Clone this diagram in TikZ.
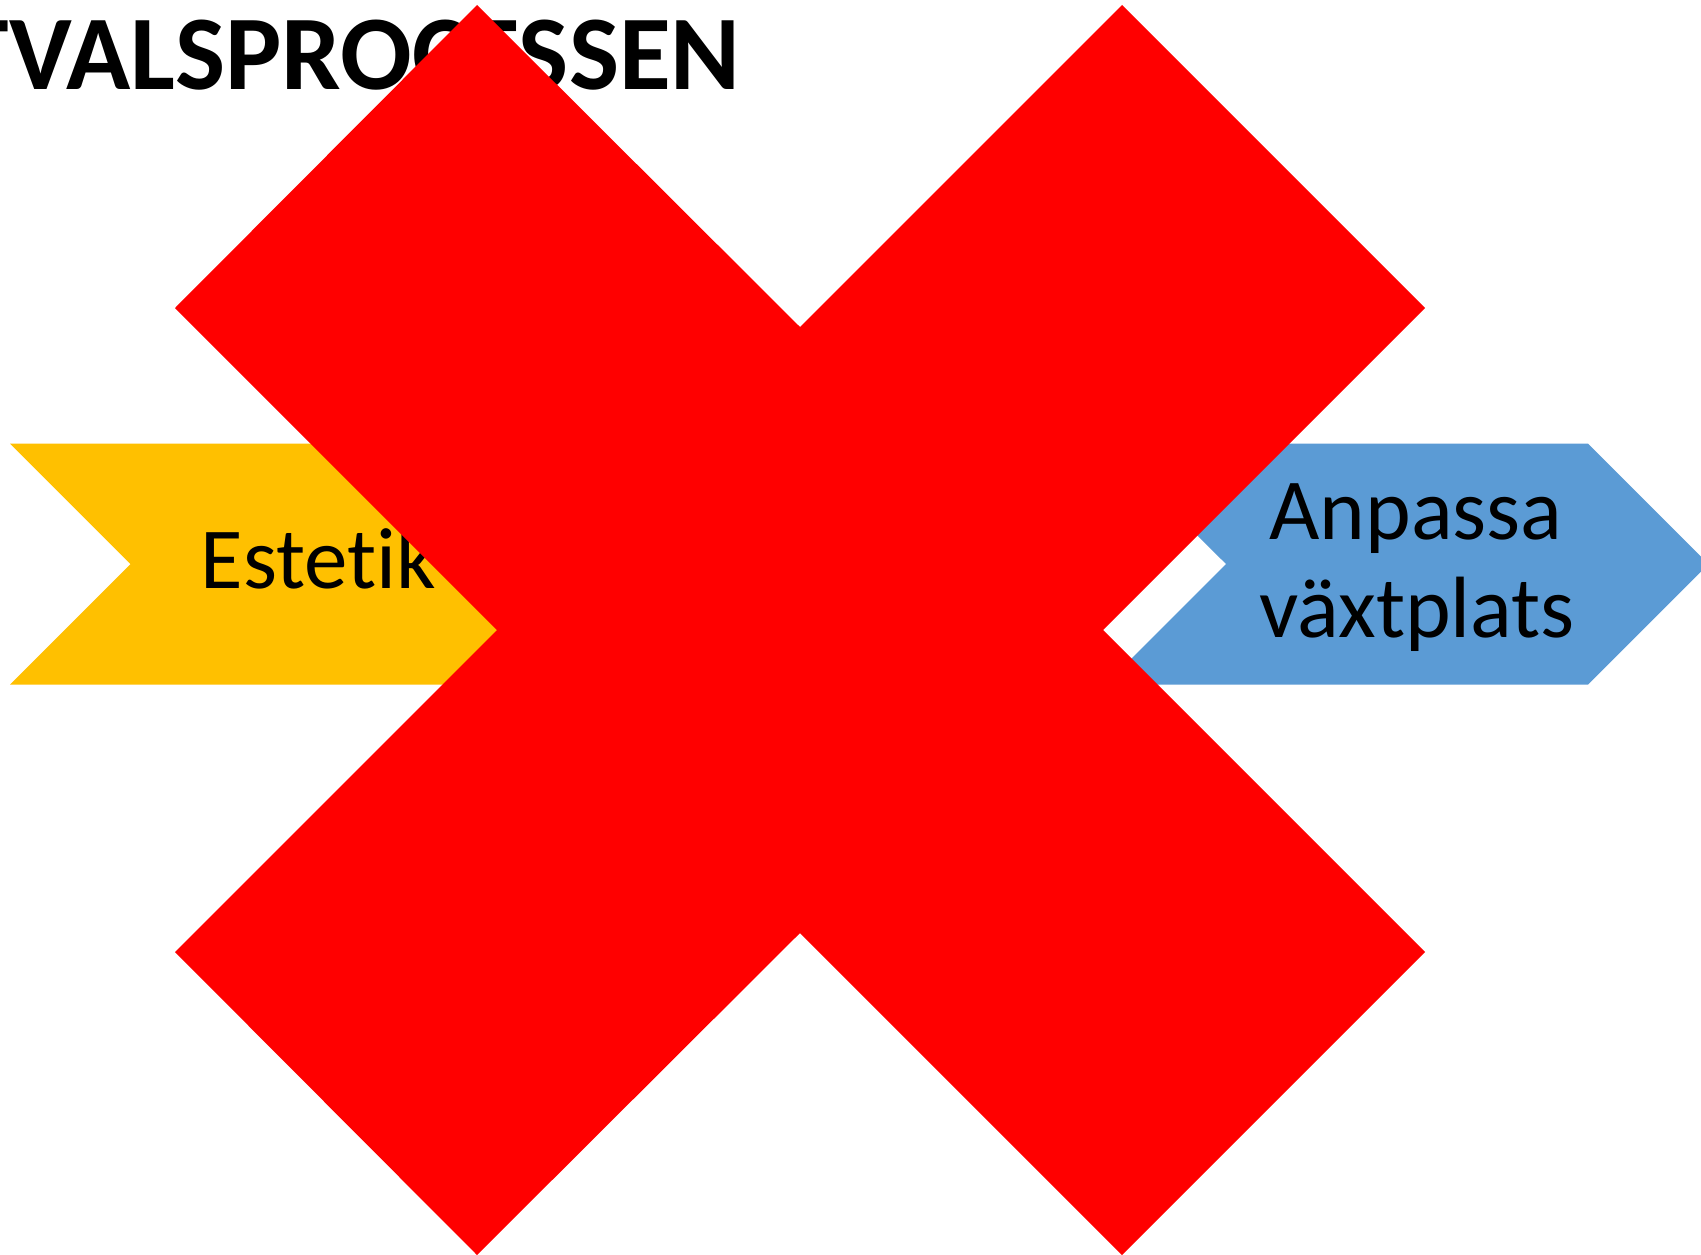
\documentclass[tikz,border=0pt]{standalone}
\usepackage{fontspec}
\setmainfont{Carlito}[Ligatures=NoCommon]
\definecolor{xred}{HTML}{FF0000}
\definecolor{chevyellow}{HTML}{FFC000}
\definecolor{chevblue}{HTML}{5B9BD5}
\begin{document}
\begin{tikzpicture}[x=1pt,y=-1pt,
  titletext/.style={inner sep=0pt, font=\bfseries\fontsize{106}{110}\selectfont},
  bodytext/.style={inner sep=0pt, font=\fontsize{87}{98}\selectfont, align=center},
  chevron/.style={draw=none}]
\useasboundingbox (0,0) rectangle (1701,1255);
\clip (0,0) rectangle (1701,1255);
\fill[white] (0,0) rectangle (1701,1255);
% title
\node[titletext, anchor=base west] (title) at (9,89) {VALSPROCESSEN};
\node[titletext, anchor=base east] (tfrag) at ([xshift=0pt]title.base west) {T};
% yellow chevron
\fill[chevyellow] (10,443.7) -- (493,443.7) -- (613.5,564) -- (493,684.5) -- (10,684.5) -- (130.5,564) -- cycle;
\node[bodytext, anchor=base west] (estetik) at (200.5,588.3) {Estetik};
% blue chevron
\fill[chevblue] (1105.5,443.7) -- (1588,443.7) -- (1708.5,564) -- (1588,684.5) -- (1105.5,684.5) -- (1226,564) -- cycle;
\node[bodytext, anchor=base] (anpassa) at (1416,539) {Anpassa};
\node[bodytext, anchor=base] (vaxtplats) at (1417,637) {växtplats};
% red cross
\fill[xred] (477,5) -- (800,327) -- (1122,5) -- (1425,308) -- (1103,630) -- (1425,952)
  -- (1122,1255) -- (800,933) -- (477,1255) -- (175,952) -- (497,630) -- (175,308) -- cycle;
\end{tikzpicture}
\end{document}
